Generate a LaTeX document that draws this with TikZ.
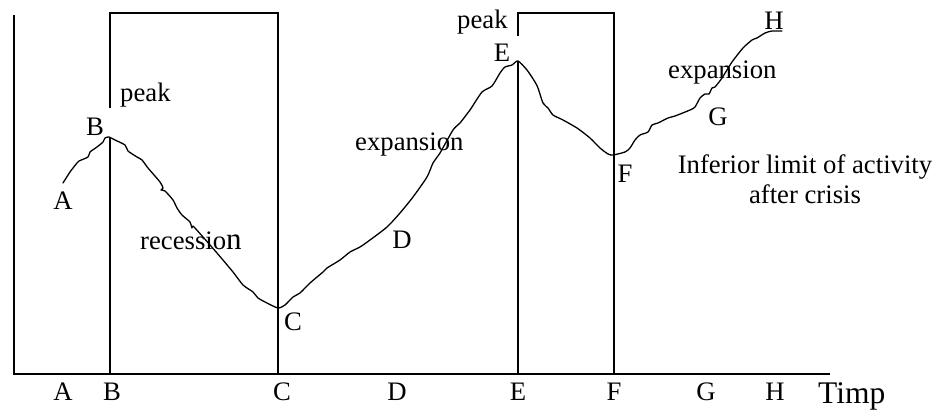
\documentclass[tikz,border=0pt]{standalone}
\usepackage{fontspec}
\setmainfont{Liberation Serif}
\usetikzlibrary{positioning}

\begin{document}
\begin{tikzpicture}[x=1pt, y=-1pt,
  frame/.style={line width=1.8pt},
  trend/.style={line width=1.3pt, line join=round, line cap=round},
  lbl/.style={font=\fontsize{26.7}{30}\selectfont, inner sep=0pt, anchor=base}]
\useasboundingbox (0,0) rectangle (937,412);
\coordinate (orig) at (14,374); \coordinate (ytop) at (14,15); \coordinate (xend) at (830,374);
\coordinate (pA) at (63,183); \coordinate (pB) at (109,137); \coordinate (pC) at (278,308);
\coordinate (pE) at (518,61); \coordinate (pF) at (613,155); \coordinate (pH) at (782,31);
\draw[frame] (ytop) -- (orig) -- (xend);
\draw[frame] (110,108) -- (110,13) -- (278,13) -- (278,374); \draw[frame] (110,137) -- (110,374);
\draw[frame] (518,36) -- (518,13) -- (614,13) -- (614,374); \draw[frame] (518,61) -- (518,374);
\draw[trend] plot[smooth, tension=0.4] coordinates {(63,183) (70,172) (77,163) (79,161) (88,157) (90,152) (97,147) (103,142) (105,138) (109,137)
  (115,140) (125,145) (128,151) (137,157) (142,160) (148,168) (160,182) (163,188) (161,190) (165,191) (173,200) (177,208) (182,215) (190,222) (192,228) (193,226)
  (203,237) (217,253) (233,272) (243,285) (253,292) (258,298) (267,303) (278,308)
  (285,305) (293,297) (300,293) (310,283) (323,272) (327,268) (340,260) (350,252) (360,247) (370,240) (387,227) (400,213) (413,197) (427,177) (433,163)
  (440,153) (453,130) (460,123) (470,110) (472,107) (482,92) (492,86) (500,73) (505,67) (512,65) (518,61)
  (527,70) (535,82) (538,88) (543,103) (548,108) (553,115) (563,120) (577,128) (590,138) (600,148) (608,154) (613,155)
  (625,152) (630,148) (635,140) (640,135) (648,132) (652,125) (658,123) (668,118) (675,116) (690,110) (695,107) (700,98) (705,94) (709,94) (712,88)
  (715,87) (722,78) (732,62) (743,48) (752,40) (757,38) (765,33) (772,31) (782,31)};
\node[lbl] (lA) at (63,209) {A};
\node[lbl] (lB) at (95,135) {B};
\node[lbl, anchor=base west] (peak1) at (120,101) {peak};
\node[lbl, anchor=base west] (rec) at (140,249) {recessio{\fontsize{31}{30}\selectfont n}};
\node[lbl] (lC) at (293,330) {C};
\node[lbl] (lD) at (402,248) {D};
\node[lbl, anchor=base west] (exp1) at (355,150) {expansion};
\node[lbl, anchor=base west] (peak2) at (457,29) {peak};
\node[lbl] (lE) at (502,62) {E};
\node[lbl] (lF) at (625,182) {F};
\node[lbl] (lG) at (718,125) {G};
\node[lbl, anchor=base west] (exp2) at (668,78) {expansion};
\node[lbl] (lH) at (774,30) {H};
\node[lbl, anchor=center, align=center] (limit) at (805,179) {Inferior limit of activity\\after crisis};
\node[lbl] (tA) at (63,400) {A};
\node[lbl] (tB) at (112,400) {B};
\node[lbl] (tC) at (282,400) {C};
\node[lbl] (tD) at (397,400) {D};
\node[lbl] (tE) at (518,400) {E};
\node[lbl] (tF) at (614,400) {F};
\node[lbl] (tG) at (706,400) {G};
\node[lbl] (tH) at (775,400) {H};
\node[lbl, anchor=base west, font=\fontsize{31.5}{34}\selectfont] (timp) at (818,403) {Timp};
\end{tikzpicture}
\end{document}
